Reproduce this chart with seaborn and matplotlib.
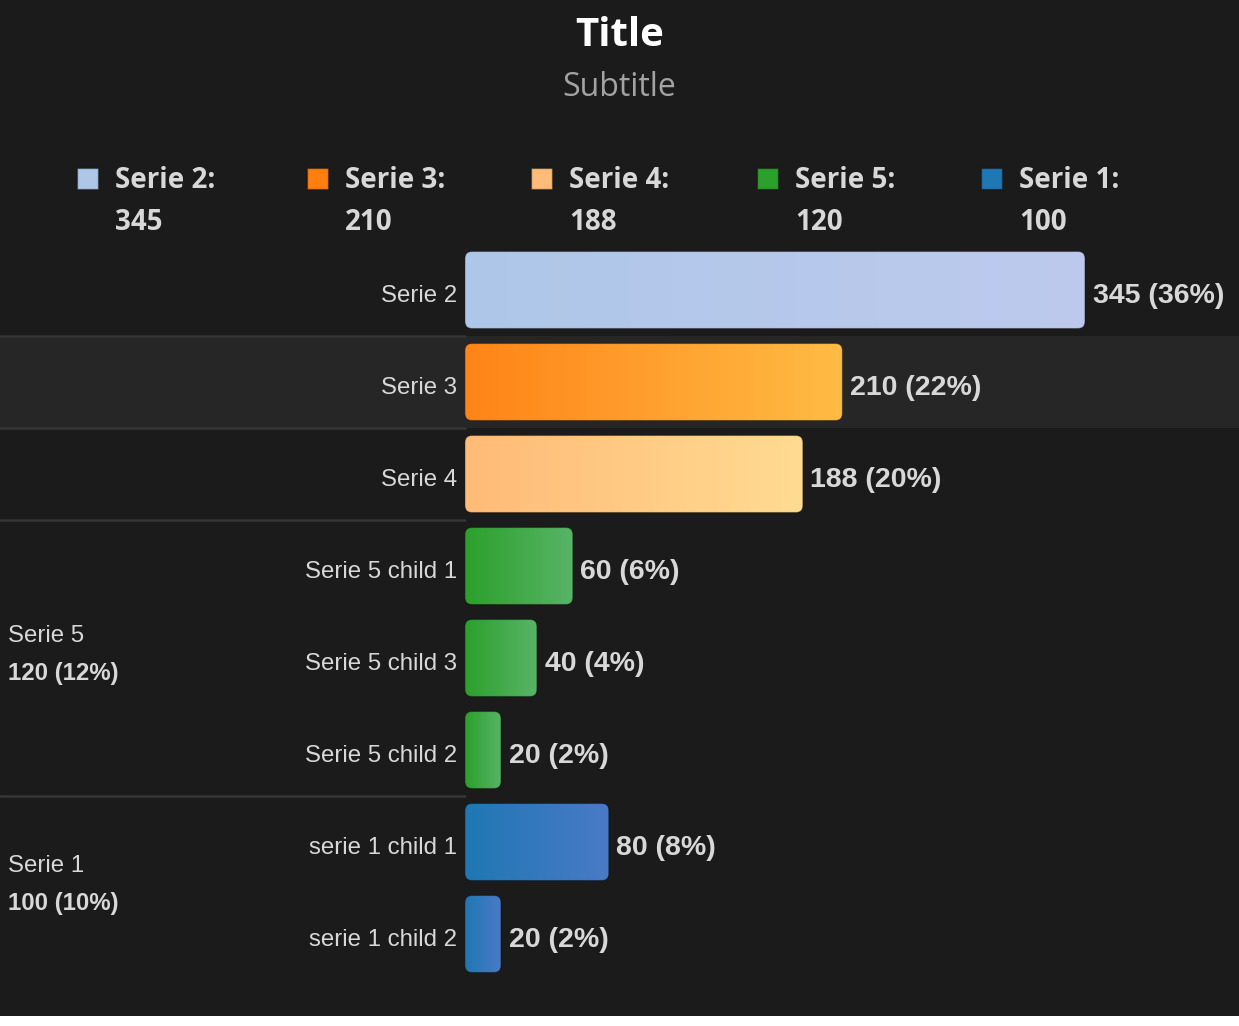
import matplotlib
matplotlib.use("Agg")
import matplotlib.pyplot as plt
import matplotlib.transforms as mtransforms
from matplotlib.patches import FancyBboxPatch, Rectangle
from matplotlib.colors import LinearSegmentedColormap
import numpy as np
import pandas as pd
import seaborn as sns

# datos del grafico
labels = ["Serie 2", "Serie 3", "Serie 4", "Serie 5 child 1", "Serie 5 child 3",
          "Serie 5 child 2", "serie 1 child 1", "serie 1 child 2"]
values = [345, 210, 188, 60, 40, 20, 80, 20]
color_start = ["#aec7e8", "#ff8417", "#ffbb78", "#2ca02c", "#2ca02c", "#2ca02c", "#1f77b4", "#1f77b4"]
color_end = ["#bdcaee", "#ffbc45", "#ffdb91", "#58b467", "#58b467", "#58b467", "#4a7ac6", "#4a7ac6"]

legend_names = ["Serie 2", "Serie 3", "Serie 4", "Serie 5", "Serie 1"]
legend_totals = [345, 210, 188, 120, 100]
legend_colors = ["#aec7e8", "#ff7f0e", "#ffbb78", "#2ca02c", "#1f77b4"]

group_names = ["Serie 5", "Serie 1"]
group_totals = [120, 100]
group_rows = [[3, 4, 5], [6, 7]]

total = sum(legend_totals)
df = pd.DataFrame({"label": labels, "value": values})

BG = "#1b1b1b"
TXT = "#d8d8d8"
W, H = 1239, 1026
TITLE_FONT = ["Open Sans", "DejaVu Sans"]

sns.set_theme(style="dark", rc={"axes.facecolor": BG, "figure.facecolor": BG})
plt.rcParams["font.family"] = ["Liberation Sans", "DejaVu Sans"]

fig = plt.figure(figsize=(W / 100, H / 100), dpi=100)
ax = fig.add_axes([465 / W, (H - 980) / H, 1 - 465 / W, 736 / H])

sns.barplot(data=df, x="value", y="label", hue="label", palette=color_start,
            orient="h", width=0.837, legend=False, ax=ax)

xmax = (W - 465) / 1.797
ax.set_xlim(0, xmax)
ax.set_ylim(7.5, -0.5)

# pasar de pixeles a unidades de datos
px_x = xmax / (W - 465)
px_y = 8 / 736
r = 7 * px_x
asp = (7 * px_y) / r

bars = list(ax.patches)
for i, p in enumerate(bars):
    x0, y0, w, h = p.get_x(), p.get_y(), p.get_width(), p.get_height()
    p.set_visible(False)
    box = FancyBboxPatch((x0, y0), w, h, boxstyle=f"round,pad=0,rounding_size={r}",
                         mutation_aspect=asp, facecolor="none", edgecolor="none",
                         transform=ax.transData)
    ax.add_patch(box)
    cmap = LinearSegmentedColormap.from_list(f"g{i}", [color_start[i], color_end[i]])
    grad = np.linspace(0, 1, 256).reshape(1, -1)
    im = ax.imshow(grad, extent=[x0, x0 + w, y0 + h, y0], aspect="auto", cmap=cmap,
                   interpolation="bicubic", zorder=3)
    im.set_clip_path(box)
    edge = FancyBboxPatch((x0, y0), w, h, boxstyle=f"round,pad=0,rounding_size={r}",
                          mutation_aspect=asp, facecolor="none", edgecolor="#00000050",
                          lw=0.8, zorder=4)
    ax.add_patch(edge)
    pct = round(values[i] / total * 100)
    ax.annotate(f"{values[i]} ({pct}%)", xy=(x0 + w, i), xytext=(5.5, -4),
                textcoords="offset points", va="center", ha="left",
                fontsize=20.5, fontweight="bold", color=TXT, zorder=5)

ax.set_xlim(0, xmax)
ax.set_ylim(7.5, -0.5)
ax.set_xlabel("")
ax.set_ylabel("")
ax.set_xticks([])
ax.set_yticks(range(len(labels)))
ax.set_yticklabels(labels, fontsize=17.3, color=TXT)
ax.tick_params(axis="y", length=0, pad=5.8)
shift = mtransforms.ScaledTranslation(0, -3 / 100, fig.dpi_scale_trans)
for lbl in ax.get_yticklabels():
    lbl.set_transform(lbl.get_transform() + shift)
ax.grid(False)
for s in ax.spines.values():
    s.set_visible(False)

# franja de fondo y separadores
trans = mtransforms.blended_transform_factory(fig.transFigure, ax.transData)
ax.add_patch(Rectangle((0, 0.5), 1, 1, transform=trans, facecolor="#262626",
                       edgecolor="none", clip_on=False, zorder=0))
for yy in [0.5, 1.5, 2.5, 5.5]:
    ax.plot([0, 465 / W], [yy, yy], transform=trans, color="#353535", lw=1.8,
            clip_on=False, zorder=1)

# etiquetas de grupos
for name, tot, rows in zip(group_names, group_totals, group_rows):
    yc = np.mean(rows)
    pct = round(tot / total * 100)
    ax.annotate(name, xy=(8 / W, yc), xycoords=trans, xytext=(0, 16),
                textcoords="offset points", va="center", ha="left", fontsize=17.3,
                color=TXT, annotation_clip=False)
    ax.annotate(f"{tot} ({pct}%)", xy=(8 / W, yc), xycoords=trans, xytext=(0, -11.5),
                textcoords="offset points", va="center", ha="left", fontsize=17.3,
                fontweight="bold", color=TXT, annotation_clip=False)

# titulo
fig.text(0.5, 1 - 36 / H, "Title", ha="center", va="center", fontsize=29,
         fontweight="bold", color="white", family=TITLE_FONT)
fig.text(0.5, 1 - 88 / H, "Subtitle", ha="center", va="center", fontsize=23,
         color="#a3a3a3", family=TITLE_FONT)

# leyenda
leg_x = [77, 307, 531, 757, 981]
for lx, name, tot, col in zip(leg_x, legend_names, legend_totals, legend_colors):
    fig.add_artist(Rectangle((lx / W, 1 - 189 / H), 21 / W, 21 / H,
                             transform=fig.transFigure, facecolor=col,
                             edgecolor="#00000055", lw=1))
    fig.text((lx + 38) / W, 1 - 181 / H, f"{name}:", ha="left", va="center",
             fontsize=20, fontweight="bold", color=TXT, family=TITLE_FONT)
    fig.text((lx + 38) / W, 1 - 223 / H, f"{tot}", ha="left", va="center",
             fontsize=20, fontweight="bold", color=TXT, family=TITLE_FONT)

# borde blanco inferior
fig.add_artist(Rectangle((0, 0), 1, 10 / H, transform=fig.transFigure,
                         facecolor="white", edgecolor="none", zorder=10))

fig.savefig("out.png", dpi=100, facecolor=BG)
